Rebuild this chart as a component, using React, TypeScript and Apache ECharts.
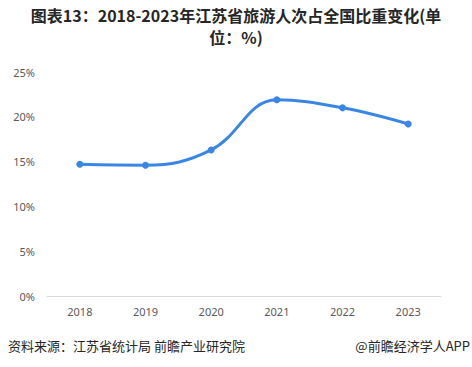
import React, { useEffect, useRef } from "react";
import * as echarts from "echarts";

const years = ["2018", "2019", "2020", "2021", "2022", "2023"];
const shares = [14.7, 14.6, 16.3, 21.9, 21.0, 19.2];
const titleLine1 = "图表13：2018-2023年江苏省旅游人次占全国比重变化(单";
const titleLine2 = "位：%)";
const sourceText = "资料来源：江苏省统计局 前瞻产业研究院";
const brandText = "@前瞻经济学人APP";

export default function App() {
  const ref = useRef<HTMLDivElement>(null);
  useEffect(() => {
    const chart = echarts.init(ref.current!, null, { renderer: "svg" });
    const titleStyle = {
      fontFamily: "'Noto Sans CJK SC', sans-serif",
      fontSize: 16,
      fontWeight: "bold",
      color: "#262626",
    };
    chart.setOption({
      animation: false,
      backgroundColor: "#ffffff",
      title: [
        { text: titleLine1, left: "center", top: 7, padding: 0, textStyle: titleStyle },
        { text: titleLine2, left: "center", top: 29, padding: 0, textStyle: titleStyle },
      ],
      grid: { left: 47, right: 31, top: 72, bottom: 71 },
      xAxis: {
        type: "category",
        data: years,
        boundaryGap: true,
        axisLine: { lineStyle: { color: "#d9d9d9", width: 1 } },
        axisTick: { show: false },
        axisLabel: { color: "#595959", fontSize: 11, margin: 10, fontFamily: "'Noto Sans', sans-serif" },
      },
      yAxis: {
        type: "value",
        min: 0,
        max: 25,
        interval: 5,
        axisLine: { show: false },
        axisTick: { show: false },
        splitLine: { show: false },
        axisLabel: { color: "#595959", fontSize: 11, margin: 12, formatter: "{value}%", fontFamily: "'Noto Sans', sans-serif" },
      },
      series: [
        {
          type: "line",
          data: shares,
          smooth: 0.4,
          symbol: "circle",
          symbolSize: 7,
          lineStyle: { color: "#3a86e6", width: 3 },
          itemStyle: { color: "#3a86e6" },
        },
      ],
      graphic: [
        {
          type: "text",
          left: 8,
          top: 339,
          style: { text: sourceText, fill: "#262626", fontSize: 13, fontFamily: "'Noto Sans CJK SC', sans-serif" },
        },
        {
          type: "text",
          right: 2,
          top: 339,
          style: { text: brandText, fill: "#262626", fontSize: 13, fontFamily: "'Noto Sans CJK SC', sans-serif" },
        },
      ],
    });
    return () => chart.dispose();
  }, []);
  return <div ref={ref} style={{ width: 472, height: 367, position: "fixed", left: 0, top: 0 }} />;
}
